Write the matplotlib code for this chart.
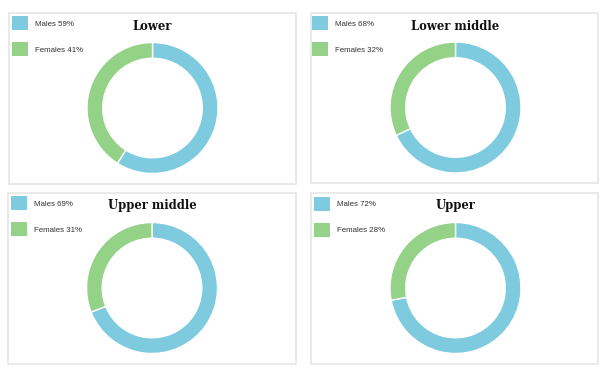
import matplotlib
matplotlib.use("Agg")
import matplotlib.pyplot as plt
from matplotlib.patches import Rectangle

# income groups and gender share (%)
groups = ["Lower", "Lower middle", "Upper middle", "Upper"]
males = [59, 68, 69, 72]
females = [41, 32, 31, 28]
labels = ["Males", "Females"]
colors = ["#7ecbe0", "#93d287"]

W, H = 608, 371
fig = plt.figure(figsize=(W / 100, H / 100), dpi=100)
fig.patch.set_facecolor("white")


def px_box(x0, y0, x1, y1):
    # pixel coords (top-left origin) -> figure fraction [l, b, w, h]
    return [x0 / W, 1 - y1 / H, (x1 - x0) / W, (y1 - y0) / H]


# panel frames, donut centres, legend anchors (pixels)
frames = [(9, 13, 296, 184), (311, 13, 598, 183), (8, 193, 296, 364), (311, 193, 598, 364)]
centres = [(152.5, 108), (455.5, 107.5), (152, 288), (455.5, 288)]
legend_xy = [(12, 16), (312, 16), (11, 196), (314, 197)]
R = 65.5

for i, g in enumerate(groups):
    x0, y0, x1, y1 = frames[i]
    l, b, w, h = px_box(x0, y0, x1, y1)
    fig.patches.append(Rectangle((l, b), w, h, transform=fig.transFigure,
                                 fill=False, edgecolor="#e6e6e6", linewidth=1.2))

    cx, cy = centres[i]
    ax = fig.add_axes(px_box(cx - R, cy - R, cx + R, cy + R))
    ax.pie([males[i], females[i]], colors=colors, startangle=90, counterclock=False,
           radius=1, wedgeprops=dict(width=0.24, edgecolor="white", linewidth=1))
    ax.set_xlim(-1, 1)
    ax.set_ylim(-1, 1)
    ax.set_aspect("equal")
    ax.axis("off")

    fig.text(cx / W, 1 - (y0 + 13) / H, g, ha="center", va="center",
             family="DejaVu Serif", fontweight="bold", fontsize=8.4, color="#111111")

    lx, ly = legend_xy[i]
    vals = [males[i], females[i]]
    for k in range(2):
        sy = ly + k * 26
        sl, sb, sw, sh = px_box(lx, sy, lx + 16, sy + 14)
        fig.patches.append(Rectangle((sl, sb), sw, sh, transform=fig.transFigure,
                                     facecolor=colors[k], edgecolor="none"))
        fig.text((lx + 23) / W, 1 - (sy + 8) / H, f"{labels[k]} {vals[k]}%",
                 ha="left", va="center", family="Liberation Sans", fontsize=5.7,
                 color="#333333")

fig.savefig("out.png", dpi=100, facecolor="white")
